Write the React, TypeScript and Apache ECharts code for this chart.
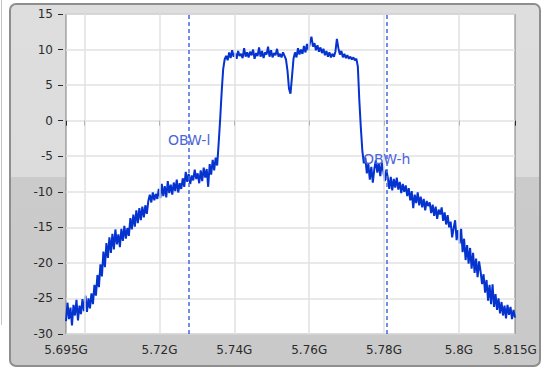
import React, { useEffect, useRef } from "react";
import * as echarts from "echarts";

// Frequency grid of the trace (MHz)
const startFreqMHz = 5695;
const stepMHz = 0.4;

// Trace levels (dB)
const lowerSkirt = [
  -28.2, -25.6, -27.9, -26.3, -28.8, -25.9, -27.4, -25.2, -28.1, -26.0,
  -27.2, -25.1, -26.8, -24.6, -26.9, -25.0, -26.4, -24.3, -25.8, -23.1,
  -24.6, -21.7, -23.4, -20.2, -21.9, -18.4, -20.6, -17.2, -19.3, -16.4,
  -18.6, -15.9, -18.1, -15.3, -17.4, -16.0, -17.8, -15.2, -16.9, -14.8,
  -16.6, -15.1, -16.2, -13.7, -15.3, -13.2, -14.9, -12.6, -14.4, -12.3,
  -14.0, -12.1, -13.6, -11.9, -13.1, -11.3, -10.4, -11.5, -10.1, -11.2,
  -10.3, -11.0, -9.6, -10.9, -8.9, -10.6, -9.2, -10.8, -8.5, -10.2,
  -9.0, -10.4, -8.7, -9.9, -8.3, -10.1, -8.8, -9.6, -8.1, -9.3,
  -7.2, -8.6, -7.5, -8.9, -7.7, -8.4, -6.9, -8.2, -7.4, -8.8,
  -7.0, -8.5, -6.6, -8.0, -6.8, -9.3, -6.1, -7.6, -5.5, -7.0,
  -5.2, -6.3,
];
const passband = [
  -3.2, 0.2, 4.0, 7.2, 8.6, 9.1,
  8.5, 9.6, 8.8, 9.9, 9.0, 9.5, 8.7, 9.8, 9.1, 9.4,
  8.8, 10.2, 9.0, 9.6, 8.9, 9.7, 9.2, 10.0, 8.7, 9.5,
  9.1, 10.3, 9.0, 9.8, 8.8, 9.6, 9.3, 10.4, 9.0, 9.9,
  8.9, 9.5, 9.2, 10.1, 9.0, 9.4, 8.9, 9.6, 9.1, 8.6,
  7.0, 4.5, 3.8, 6.2, 8.7, 9.6, 8.9, 10.2, 9.3, 10.0,
  9.4, 10.5, 9.6, 10.8, 9.9, 11.0, 11.8, 10.4, 10.9, 9.9,
  10.6, 9.7, 10.3, 9.5, 10.1, 9.2, 9.8, 9.0, 9.6, 8.9,
  9.4, 9.0, 9.7, 11.5, 10.2, 9.3, 9.8, 8.9, 9.4, 8.8,
  9.2, 8.7, 9.0, 8.6, 8.9, 8.5, 8.7, 7.6, 2.8,
];
const upperSkirt = [
  -1.0, -4.2, -6.0, -5.2, -7.4, -6.1, -8.3, -6.5, -8.7, -6.8,
  -5.6, -7.3, -6.0, -7.8, -5.9, -7.1, -8.5, -6.9, -8.0, -9.6,
  -7.9, -9.8, -8.2, -9.4, -8.0, -9.7, -8.6, -10.2, -8.9, -10.0,
  -9.1, -10.6, -9.5, -11.2, -9.9, -12.3, -10.4, -11.6, -10.1, -11.9,
  -10.7, -12.2, -11.0, -12.6, -11.3, -12.0, -11.5, -13.0, -11.8, -13.4,
  -12.1, -13.8, -12.5, -13.2, -12.2, -14.1, -12.9, -14.6, -13.3, -15.0,
  -14.2, -16.4, -15.1, -14.0, -16.8, -15.4, -17.3, -15.2, -18.5, -16.6,
  -19.6, -17.5, -20.1, -17.9, -20.8, -18.6, -21.4, -19.4, -22.0, -19.8,
  -21.2, -23.0, -21.6, -24.2, -22.4, -25.3, -23.1, -25.8, -23.0, -26.2,
  -24.4, -26.6, -25.0, -27.1, -25.5, -27.4, -26.0, -27.8, -25.9, -27.3,
  -26.2, -27.9, -26.6, -27.7,
];

// Axes
const xMin = 5695;
const xMax = 5815;
const xTickValues = [5695, 5700, 5720, 5740, 5760, 5780, 5800, 5815];
const xLabelValues = [5695, 5720, 5740, 5760, 5780, 5800, 5815];
const xGridValues = [5700, 5720, 5740, 5760, 5780, 5800];
const yMin = -30;
const yMax = 15;
const yInterval = 5;

// Occupied-bandwidth markers
const obwNames = ["OBW-l", "OBW-h"];
const obwFreqs = [5727.9, 5780.7];
const obwLabelLevels = [-2.7, -5.4];

const FONT = "'DejaVu Sans', Verdana, sans-serif";

export default function App() {
  const ref = useRef<HTMLDivElement>(null);

  useEffect(() => {
    if (!ref.current) return;
    document.body.style.margin = "0";
    const chart = echarts.init(ref.current, null, { renderer: "svg" });

    const levels = [...lowerSkirt, ...passband, ...upperSkirt];
    const trace = levels.map((v, i) => [
      +(startFreqMHz + i * stepMHz).toFixed(2),
      v,
    ]);

    chart.setOption({
      animation: false,
      graphic: [
        {
          type: "rect",
          z: -10,
          shape: { x: 10, y: 4, width: 530, height: 362, r: 6 },
          style: {
            fill: new echarts.graphic.LinearGradient(0, 0, 0, 1, [
              { offset: 0, color: "#dedede" },
              { offset: 0.478, color: "#dcdcdc" },
              { offset: 0.479, color: "#cbcbcb" },
              { offset: 1, color: "#c9c9c9" },
            ]),
            stroke: "#8e8e8e",
            lineWidth: 2,
          },
        },
        {
          type: "line",
          z: -10,
          shape: { x1: 1.5, y1: 0, x2: 1.5, y2: 325 },
          style: { stroke: "#c4c4c4", lineWidth: 1 },
        },
      ],
      grid: {
        left: 66,
        top: 14,
        right: 29,
        bottom: 36,
        show: true,
        backgroundColor: "#ffffff",
        borderColor: "#7c7c7c",
        borderWidth: 1,
      },
      xAxis: {
        type: "value",
        min: xMin,
        max: xMax,
        offset: 3,
        axisLine: { show: false },
        axisTick: {
          show: true,
          length: 5,
          customValues: xTickValues,
          lineStyle: { color: "#2a2a2a", width: 1 },
        },
        axisLabel: {
          customValues: xLabelValues,
          margin: 7,
          color: "#2b2b2b",
          fontSize: 12,
          fontFamily: FONT,
          formatter: (v: number) => parseFloat((v / 1000).toFixed(3)) + "G",
        },
        splitLine: { show: false },
      },
      yAxis: {
        type: "value",
        min: yMin,
        max: yMax,
        interval: yInterval,
        offset: 3,
        axisLine: { show: false },
        axisTick: {
          show: true,
          length: 5,
          lineStyle: { color: "#2a2a2a", width: 1 },
        },
        axisLabel: {
          margin: 10,
          color: "#2b2b2b",
          fontSize: 12,
          fontFamily: FONT,
        },
        splitLine: { show: true, lineStyle: { color: "#e2e2e2", width: 1.5 } },
      },
      series: [
        {
          type: "line",
          z: 1,
          data: [],
          silent: true,
          markLine: {
            silent: true,
            symbol: "none",
            label: { show: false },
            lineStyle: { color: "#e2e2e2", width: 1.5, type: "solid" },
            data: xGridValues.map((x) => ({ xAxis: x })),
          },
        },
        {
          type: "line",
          z: 3,
          data: trace,
          showSymbol: false,
          lineStyle: { color: "#0433d0", width: 2 },
          silent: true,
        },
        {
          type: "line",
          z: 4,
          data: [],
          silent: true,
          markLine: {
            silent: true,
            symbol: "none",
            label: { show: false },
            lineStyle: { color: "#4169e1", width: 1.5, type: [4, 3] },
            data: obwFreqs.map((x) => ({ xAxis: x })),
          },
          markPoint: {
            silent: true,
            symbol: "circle",
            symbolSize: 1,
            itemStyle: { color: "rgba(0,0,0,0)" },
            label: {
              show: true,
              position: "inside",
              color: "#4a66d8",
              fontSize: 14,
              fontFamily: FONT,
              formatter: (p: any) => p.name,
            },
            data: obwNames.map((n, i) => ({
              name: n,
              coord: [obwFreqs[i], obwLabelLevels[i]],
            })),
          },
        },
      ],
    });

    return () => chart.dispose();
  }, []);

  return (
    <div
      ref={ref}
      style={{ position: "absolute", left: 0, top: 0, width: 544, height: 370 }}
    />
  );
}
